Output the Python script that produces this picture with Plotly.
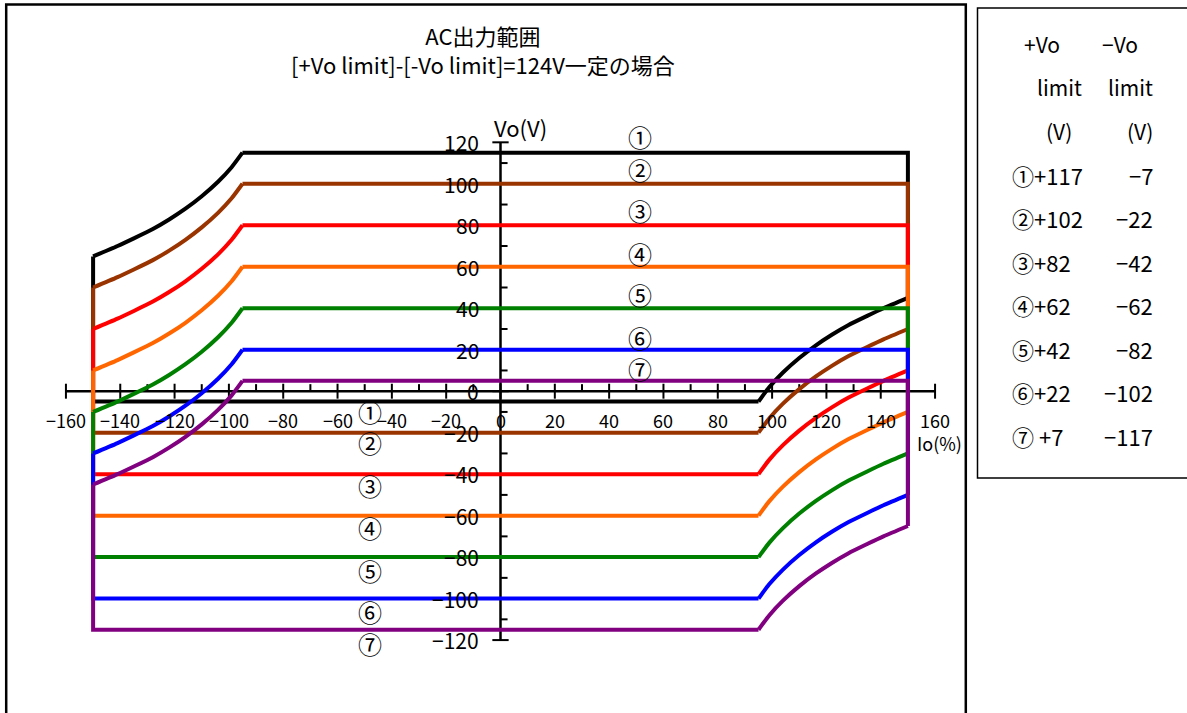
import plotly.graph_objects as go

W, H = 1187, 713

# ---------------- data ----------------
series_labels = ["①", "②", "③", "④", "⑤", "⑥", "⑦"]
colors = ["#000000", "#993300", "#FF0000", "#FF6600", "#008000", "#0000FF", "#800080"]
top_levels = [115, 100, 80, 60, 40, 20, 5]
bottom_levels = [-5, -20, -40, -60, -80, -100, -115]
io_edge = 150
# knee profile: |Io| (%) and drop from flat level (V)
knee_io = [95, 99, 104, 110, 116, 122, 128, 135, 141, 150]
knee_drop = [0, 7, 14, 21, 27, 32.2, 36.8, 41.3, 45, 50]

top_label_x = 51.5
top_label_y = [123, 107, 87, 66.5, 46.5, 26, 11]
bottom_label_x = -48
bottom_label_y = [-10, -24.5, -45.5, -65.5, -86.5, -106, -121.5]

x_ticks = list(range(-160, 161, 20))
x_minor = list(range(-150, 151, 20))
y_ticks = list(range(-120, 121, 20))
y_minor = list(range(-110, 111, 20))

title_lines = ["AC出力範囲", "[+Vo limit]-[-Vo limit]=124V一定の場合"]
x_title = "Io(%)"
y_title = "Vo(V)"

table_head_plus = ["+Vo", "limit", "(V)"]
table_head_minus = ["−Vo", "limit", "(V)"]
table_plus = ["①+117", "②+102", "③+82", "④+62", "⑤+42", "⑥+22", "⑦ +7"]
table_minus = ["−7", "−22", "−42", "−62", "−82", "−102", "−117"]

# ---------------- geometry (pixel calibration) ----------------
X0PX, XS = 500.5, 2.716
Y0PX, YS = 391.2, 2.074
xr = [(0 - X0PX) / XS, (W - X0PX) / XS]
yr = [(Y0PX - H) / YS, Y0PX / YS]

FONT = "Noto Sans CJK JP"


def fmt(v):
    return str(v).replace("-", "−")


def px(x):
    return x / W


def py(y):
    return 1 - y / H


fig = go.Figure()

rev_io = list(reversed(knee_io))
rev_drop = list(reversed(knee_drop))
for lab, col, T, B in zip(series_labels, colors, top_levels, bottom_levels):
    # straight parts (flat levels and vertical edges)
    xs = [-knee_io[0], io_edge, io_edge, None, knee_io[0], -io_edge, -io_edge]
    ys = [T, T, B + knee_drop[-1], None, B, B, T - knee_drop[-1]]
    fig.add_trace(go.Scatter(x=xs, y=ys, mode="lines", name=lab,
                             line=dict(color=col, width=4), hoverinfo="skip",
                             showlegend=False))
    # curved knee parts
    cx = [-i for i in rev_io] + [None] + [i for i in rev_io]
    cy = [T - d for d in rev_drop] + [None] + [B + d for d in rev_drop]
    fig.add_trace(go.Scatter(x=cx, y=cy, mode="lines", name=lab,
                             line=dict(color=col, width=4, shape="spline", smoothing=0.6),
                             connectgaps=False, hoverinfo="skip", showlegend=False))

shapes = []
AX = dict(color="black", width=2.5)
TK = dict(color="black", width=2)
shapes.append(dict(type="line", xref="x", yref="y", x0=-160, x1=160, y0=0, y1=0, line=AX, layer="below"))
shapes.append(dict(type="line", xref="x", yref="y", x0=0, x1=0, y0=-120, y1=120, line=AX, layer="below"))
for v in x_ticks:
    shapes.append(dict(type="line", xref="x", yref="y", x0=v, x1=v, y0=-3.6, y1=3.6, line=TK, layer="below"))
for v in x_minor:
    shapes.append(dict(type="line", xref="x", yref="y", x0=v, x1=v, y0=0, y1=3.4, line=TK, layer="below"))
for v in y_ticks:
    shapes.append(dict(type="line", xref="x", yref="y", x0=-3, x1=3, y0=v, y1=v, line=TK, layer="below"))
for v in y_minor:
    shapes.append(dict(type="line", xref="x", yref="y", x0=0, x1=2.6, y0=v, y1=v, line=TK, layer="below"))

# frames
shapes.append(dict(type="rect", xref="paper", yref="paper", x0=px(6.2), x1=px(965.8),
                   y0=py(H + 10), y1=py(4.5), line=dict(color="black", width=2.5)))
shapes.append(dict(type="rect", xref="paper", yref="paper", x0=px(977.5), x1=px(W + 10),
                   y0=py(478), y1=py(8), line=dict(color="black", width=1.5)))

ann = []


def A(text, x, y, size=18, xanchor="center", yanchor="middle", xref="paper", yref="paper", **kw):
    ann.append(dict(text=text, x=x, y=y, xref=xref, yref=yref, showarrow=False,
                    xanchor=xanchor, yanchor=yanchor,
                    font=dict(family=FONT, size=size, color="black"), **kw))


A("<br>".join(title_lines), px(483), py(49), size=22)
A(y_title, px(520), py(127), size=22)
A(x_title, px(939), py(443), size=18)

for v in x_ticks:
    A(fmt(v), v, 0, size=18, xref="x", yref="y", yshift=-(420 - Y0PX))
for v in y_ticks:
    A(fmt(v), 0, v, size=21, xanchor="right", xref="x", yref="y", xshift=-(X0PX - 481))

for lab, yv in zip(series_labels, top_label_y):
    A(lab, top_label_x, yv, size=24, xref="x", yref="y")
for lab, yv in zip(series_labels, bottom_label_y):
    A(lab, bottom_label_x, yv, size=24, xref="x", yref="y")

row_y0, row_dy = 44, 43.5
head_left = [1022, 1035, 1044]
for i, (a, b) in enumerate(zip(table_head_plus, table_head_minus)):
    yy = row_y0 + i * row_dy
    A(a, px(head_left[i]), py(yy), size=21, xanchor="left")
    A(b, px(1155) if i else px(1140), py(yy), size=21, xanchor="right")
for j, (a, b) in enumerate(zip(table_plus, table_minus)):
    yy = row_y0 + (j + 3) * row_dy
    A(a, px(1010), py(yy), size=22, xanchor="left")
    A(b, px(1155), py(yy), size=22, xanchor="right")

fig.update_layout(
    width=W, height=H,
    margin=dict(l=0, r=0, t=0, b=0, pad=0),
    paper_bgcolor="white", plot_bgcolor="white",
    xaxis=dict(range=xr, visible=False, showgrid=False, zeroline=False, fixedrange=True),
    yaxis=dict(range=yr, visible=False, showgrid=False, zeroline=False, fixedrange=True),
    shapes=shapes, annotations=ann, showlegend=False,
)

fig.write_html("out.html", config={"displayModeBar": False},
               post_script="document.body.style.margin='0';document.body.style.overflow='hidden';")
